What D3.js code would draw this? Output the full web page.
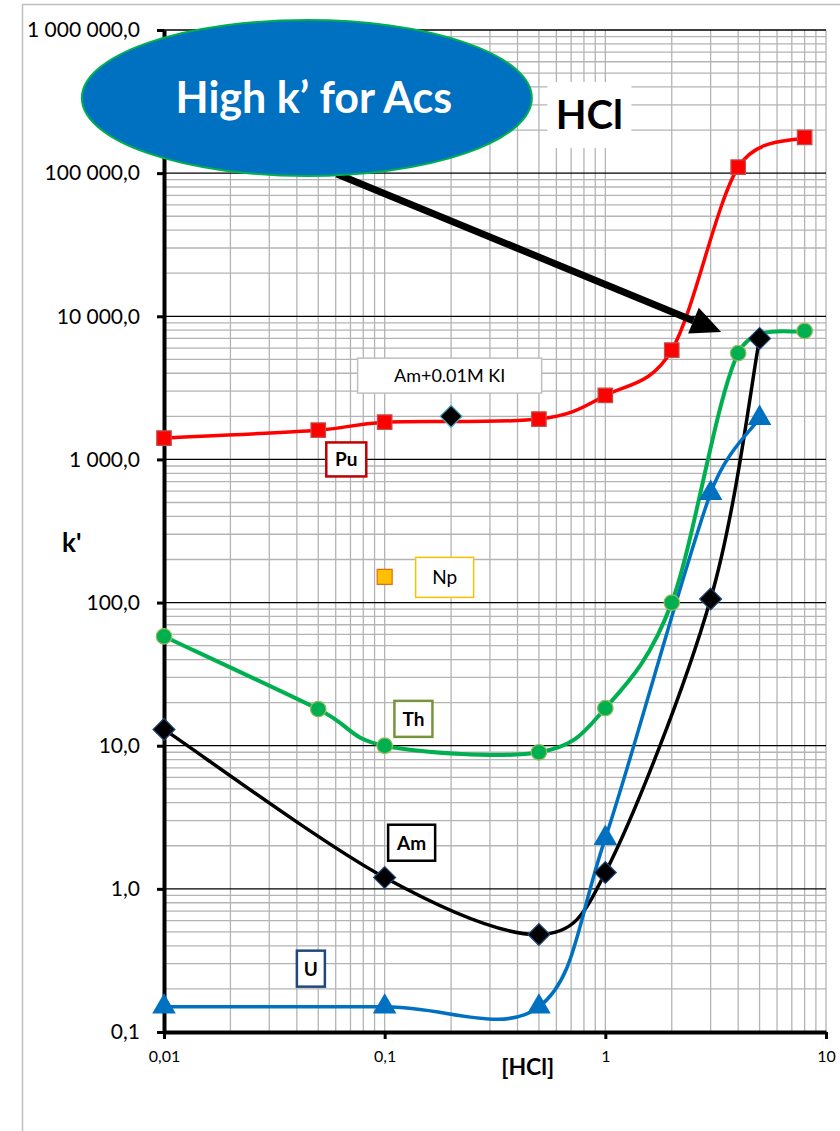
<!DOCTYPE html>
<html>
<head>
<meta charset="utf-8">
<script src="https://cdn.jsdelivr.net/npm/d3@7"></script>
<style>
  body { margin: 0; background: #fff; }
  text { font-family: Lato, "Open Sans", sans-serif; }
</style>
</head>
<body>
<svg id="chart"></svg>
<script>
// values (x = [HCl] in M, y = k')
var hcl = [0.01, 0.05, 0.1, 0.5, 1, 2, 4, 8];
var puValues = [1410, 1600, 1820, 1915, 2800, 5800, 110000, 178000];
var thValues = [58, 18, 10, 9, 18.3, 100, 5530, 7900];
var amHcl = [0.01, 0.1, 0.5, 1, 3, 5];
var amValues = [13, 1.2, 0.48, 1.3, 106, 7000];
var uHcl = [0.01, 0.1, 0.5, 1, 3, 5];
var uValues = [0.15, 0.15, 0.15, 2.26, 582, 1945];
var amKiHcl = [0.2];
var amKiValues = [2000];
var npHcl = [0.1];
var npValues = [151];

var xTickValues = [0.01, 0.1, 1, 10];
var xTickLabels = ["0,01", "0,1", "1", "10"];
var yTickValues = [0.1, 1, 10, 100, 1000, 10000, 100000, 1000000];
var yTickLabels = ["0,1", "1,0", "10,0", "100,0", "1 000,0", "10 000,0", "100 000,0", "1 000 000,0"];

// series name boxes, placed in data space
var labelNames = ["Pu", "Np", "Am+0.01M KI", "Th", "Am", "U"];
var labelX = [0.067, 0.187, 0.197, 0.135, 0.1325, 0.0463];
var labelY = [1000, 150, 3850, 15.4, 2.1, 0.277];

var width = 840, height = 1131;
var margin = {top: 30, left: 164};
var plotW = 662, plotH = 1002;

var svg = d3.select('#chart')
    .attr('width', width)
    .attr('height', height);

// outer chart frame (runs off the page on right/bottom)
svg.append('path')
    .attr('d', 'M22.5,1131 V4.5 H860')
    .attr('fill', 'none')
    .attr('stroke', '#bfbfbf')
    .attr('stroke-width', 1.5);

var g = svg.append('g')
    .attr('transform', 'translate(' + margin.left + ',' + margin.top + ')');

var x = d3.scaleLog().domain([0.01, 10]).range([0, plotW]);
var y = d3.scaleLog().domain([0.1, 1000000]).range([plotH, 0]);

// minor + major gridlines
var xGrid = [], yGrid = [];
[0.01, 0.1, 1].forEach(function (d) {
    for (var m = 1; m <= 9; m++) xGrid.push(d * m);
});
xGrid.push(10);
[0.1, 1, 10, 100, 1000, 10000, 100000].forEach(function (d) {
    for (var m = 2; m <= 9; m++) yGrid.push(d * m);
});

g.selectAll('.vgrid')
    .data(xGrid)
    .enter()
    .append('line')
    .attr('x1', function (d) { return x(d); })
    .attr('x2', function (d) { return x(d); })
    .attr('y1', 0)
    .attr('y2', plotH)
    .attr('stroke', '#b4b4b4')
    .attr('stroke-width', 1.3);

g.selectAll('.hgrid')
    .data(yGrid)
    .enter()
    .append('line')
    .attr('x1', 0)
    .attr('x2', plotW)
    .attr('y1', function (d) { return y(d); })
    .attr('y2', function (d) { return y(d); })
    .attr('stroke', '#b4b4b4')
    .attr('stroke-width', 1.3);

g.selectAll('.hmajor')
    .data(yTickValues.slice(1))
    .enter()
    .append('line')
    .attr('x1', 0)
    .attr('x2', plotW)
    .attr('y1', function (d) { return y(d); })
    .attr('y2', function (d) { return y(d); })
    .attr('stroke', '#000')
    .attr('stroke-width', 1.3);

// axes
var yAxis = d3.axisLeft(y)
    .tickValues(yTickValues)
    .tickFormat(function (d, i) { return yTickLabels[i]; })
    .tickSize(7)
    .tickSizeOuter(0)
    .tickPadding(17);
var yg = g.append('g').call(yAxis);

var xAxis = d3.axisBottom(x)
    .tickValues(xTickValues)
    .tickFormat(function (d, i) { return xTickLabels[i]; })
    .tickSize(7)
    .tickSizeOuter(0)
    .tickPadding(12);
var xg = g.append('g')
    .attr('transform', 'translate(0,' + plotH + ')')
    .call(xAxis);

[yg, xg].forEach(function (a) {
    a.select('.domain').attr('stroke-width', 4);
    a.selectAll('.tick line').attr('stroke-width', 3);
});
yg.selectAll('.tick text')
    .style('font-family', 'Lato, sans-serif')
    .style('font-size', '21px')
    .attr('fill', '#000');
xg.selectAll('.tick text')
    .style('font-family', 'Lato, sans-serif')
    .style('font-size', '16px')
    .attr('fill', '#000');

// Excel-like smoothing: bezier arms of (next - prev)/6, capped at half the segment
function smoothPath(pts) {
    var p = d3.path();
    p.moveTo(pts[0][0], pts[0][1]);
    for (var i = 0; i < pts.length - 1; i++) {
        var p0 = pts[Math.max(i - 1, 0)], p1 = pts[i], p2 = pts[i + 1], p3 = pts[Math.min(i + 2, pts.length - 1)];
        var seg = Math.hypot(p2[0] - p1[0], p2[1] - p1[1]);
        var a = [(p2[0] - p0[0]) / 6, (p2[1] - p0[1]) / 6];
        var b = [(p3[0] - p1[0]) / 6, (p3[1] - p1[1]) / 6];
        var la = Math.hypot(a[0], a[1]), lb = Math.hypot(b[0], b[1]);
        if (la > seg / 2) { a = [a[0] * seg / 2 / la, a[1] * seg / 2 / la]; }
        if (lb > seg / 2) { b = [b[0] * seg / 2 / lb, b[1] * seg / 2 / lb]; }
        p.bezierCurveTo(p1[0] + a[0], p1[1] + a[1], p2[0] - b[0], p2[1] - b[1], p2[0], p2[1]);
    }
    return p.toString();
}

function pairs(xs, ys) {
    return xs.map(function (v, i) { return [v, ys[i]]; });
}

var series = [
    {data: pairs(hcl, puValues), color: '#ff0000', w: 3.5},
    {data: pairs(hcl, thValues), color: '#00b050', w: 4},
    {data: pairs(amHcl, amValues), color: '#000000', w: 3.5},
    {data: pairs(uHcl, uValues), color: '#0070c0', w: 3.5}
];

g.selectAll('.series')
    .data(series)
    .enter()
    .append('path')
    .attr('d', function (d) {
        return smoothPath(d.data.map(function (v) { return [x(v[0]), y(v[1])]; }));
    })
    .attr('fill', 'none')
    .attr('stroke', function (d) { return d.color; })
    .attr('stroke-width', function (d) { return d.w; });

// markers
function drawMarkers(data, type, size, fill, stroke, rotate) {
    g.selectAll(null)
        .data(data)
        .enter()
        .append('path')
        .attr('d', d3.symbol().type(type).size(size))
        .attr('transform', function (d) {
            return 'translate(' + x(d[0]) + ',' + y(d[1]) + ')' + (rotate ? ' rotate(' + rotate + ')' : '');
        })
        .attr('fill', fill)
        .attr('stroke', stroke)
        .attr('stroke-width', 1.2);
}

drawMarkers(pairs(hcl, puValues), d3.symbolSquare, 210, '#ff0000', '#c0504d');
drawMarkers(pairs(hcl, thValues), d3.symbolCircle, 190, '#00b050', '#9bbb59');
drawMarkers(pairs(amHcl, amValues), d3.symbolSquare, 240, '#000000', '#1f497d', 45);
drawMarkers(pairs(amKiHcl, amKiValues), d3.symbolSquare, 240, '#000000', '#4bacc6', 45);
drawMarkers(pairs(uHcl, uValues), d3.symbolTriangle, 200, '#0070c0', '#0070c0');
drawMarkers(pairs(npHcl, npValues), d3.symbolSquare, 225, '#ffc000', '#e46c0a');

// label boxes
var labelStyle = [
    {w: 40, h: 34, stroke: '#c00000', sw: 2.5, bold: true, size: 19},
    {w: 58, h: 40, stroke: '#ffc000', sw: 1.5, bold: false, size: 19},
    {w: 184, h: 35, stroke: '#bfbfbf', sw: 1.5, bold: false, size: 18},
    {w: 38, h: 36, stroke: '#77933c', sw: 2.5, bold: true, size: 19},
    {w: 47, h: 36, stroke: '#000000', sw: 2.5, bold: true, size: 19},
    {w: 28, h: 36, stroke: '#1f497d', sw: 2.5, bold: true, size: 19}
];

labelNames.forEach(function (name, i) {
    var s = labelStyle[i];
    var cx = x(labelX[i]), cy = y(labelY[i]);
    g.append('rect')
        .attr('x', cx - s.w / 2)
        .attr('y', cy - s.h / 2)
        .attr('width', s.w)
        .attr('height', s.h)
        .attr('fill', '#fff')
        .attr('stroke', s.stroke)
        .attr('stroke-width', s.sw);
    g.append('text')
        .attr('x', cx)
        .attr('y', cy)
        .attr('dy', '0.36em')
        .attr('text-anchor', 'middle')
        .style('font-size', s.size + 'px')
        .style('font-weight', s.bold ? 'bold' : 'normal')
        .text(name);
});

// "HCl" title box
var hclX = x(0.847), hclY = y(254700);
g.append('rect')
    .attr('x', hclX - 42)
    .attr('y', hclY - 33)
    .attr('width', 84)
    .attr('height', 66)
    .attr('fill', '#fff');
g.append('text')
    .attr('x', hclX)
    .attr('y', hclY)
    .attr('dy', '0.36em')
    .attr('text-anchor', 'middle')
    .style('font-size', '40px')
    .style('font-weight', 'bold')
    .text('HCl');

// arrow
var ax1 = x(0.0607), ay1 = y(98600), ax2 = x(3.35), ay2 = y(7760);
var ang = Math.atan2(ay2 - ay1, ax2 - ax1);
var headL = 30, headW = 14;
var bx = ax2 - headL * Math.cos(ang), by = ay2 - headL * Math.sin(ang);
g.append('line')
    .attr('x1', ax1).attr('y1', ay1)
    .attr('x2', bx).attr('y2', by)
    .attr('stroke', '#000')
    .attr('stroke-width', 7);
g.append('polygon')
    .attr('points', [
        [ax2, ay2],
        [bx + headW * Math.sin(ang), by - headW * Math.cos(ang)],
        [bx - headW * Math.sin(ang), by + headW * Math.cos(ang)]
    ].map(function (p) { return p.join(','); }).join(' '))
    .attr('fill', '#000');

// callout ellipse
var ex = x(0.0444), ey = y(335000);
g.append('ellipse')
    .attr('cx', ex)
    .attr('cy', ey)
    .attr('rx', 225)
    .attr('ry', 78)
    .attr('fill', '#0070c0')
    .attr('stroke', '#00b050')
    .attr('stroke-width', 2);
g.append('text')
    .attr('x', ex + 7)
    .attr('y', ey)
    .attr('dy', '0.36em')
    .attr('text-anchor', 'middle')
    .attr('fill', '#fff')
    .style('font-size', '43px')
    .style('font-weight', 'bold')
    .text('High k\u2019 for Acs');

// axis titles
svg.append('text')
    .attr('x', 62)
    .attr('y', 552)
    .style('font-size', '26px')
    .style('font-weight', 'bold')
    .text('k\'');
svg.append('text')
    .attr('x', margin.left + x(0.445))
    .attr('y', 1075)
    .attr('text-anchor', 'middle')
    .style('font-size', '23px')
    .style('font-weight', 'bold')
    .text('[HCl]');
</script>
</body>
</html>
